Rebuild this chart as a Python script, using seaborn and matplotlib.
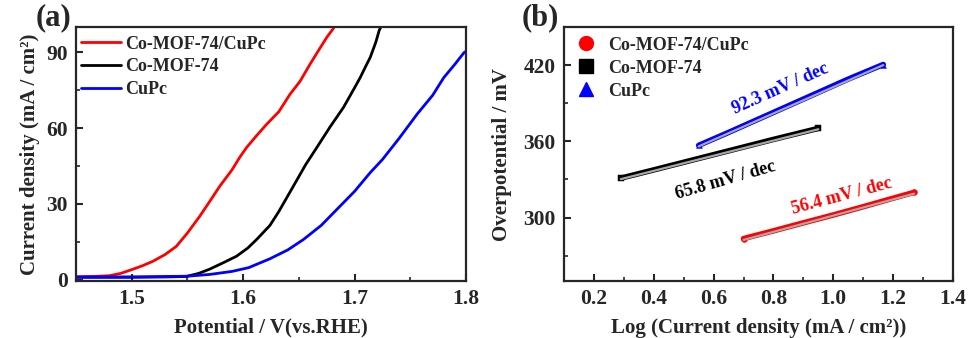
import numpy as np
import pandas as pd
import matplotlib
matplotlib.use("Agg")
import matplotlib.pyplot as plt
from matplotlib.lines import Line2D
from matplotlib.ticker import MultipleLocator
import seaborn as sns

sns.set_style("ticks")
plt.rcParams["font.family"] = ["Liberation Serif", "DejaVu Serif"]
plt.rcParams["font.weight"] = "bold"
plt.rcParams["axes.labelweight"] = "bold"

# ---- LSV polarization curves (panel a) ----
names = ["Co-MOF-74/CuPc", "Co-MOF-74", "CuPc"]
colors = ["#ff0000", "#000000", "#0000ff"]

v_hybrid = [1.45, 1.465, 1.48, 1.49, 1.50, 1.51, 1.519, 1.53, 1.54, 1.55, 1.561, 1.57,
            1.579, 1.59, 1.597, 1.603, 1.612, 1.621, 1.632, 1.642, 1.651, 1.660, 1.668,
            1.675, 1.681, 1.684]
j_hybrid = [1.2, 1.3, 1.6, 2.5, 4.0, 5.6, 7.3, 10.0, 13.2, 18.5, 25.1, 31.0,
            37.0, 43.5, 48.5, 52.3, 57.0, 61.5, 66.5, 73.4, 78.5, 85.3, 91.0,
            95.9, 99.5, 101.5]

v_mof = [1.45, 1.50, 1.53, 1.549, 1.560, 1.570, 1.582, 1.594, 1.604, 1.612, 1.624, 1.632,
         1.645, 1.656, 1.665, 1.678, 1.690, 1.700, 1.705, 1.710, 1.714, 1.719, 1.722, 1.725]
j_mof = [1.0, 1.0, 1.1, 1.3, 2.5, 4.2, 6.7, 9.3, 12.5, 15.9, 21.5, 27.0,
         37.0, 45.5, 51.6, 60.5, 68.2, 76.0, 80.0, 84.5, 88.0, 94.0, 98.6, 101.5]

v_cupc = [1.45, 1.50, 1.55, 1.57, 1.59, 1.605, 1.624, 1.640, 1.654, 1.670, 1.684, 1.700,
          1.714, 1.725, 1.740, 1.756, 1.770, 1.780, 1.790, 1.798, 1.801]
j_cupc = [1.0, 1.1, 1.4, 2.1, 3.3, 4.8, 8.3, 11.8, 15.9, 21.5, 27.8, 35.0,
          42.4, 47.6, 56.0, 65.5, 73.0, 80.0, 85.3, 89.8, 90.8]

# ---- Tafel plots (panel b) ----
logj_hybrid = [0.70, 0.80, 0.90, 1.00, 1.10, 1.20, 1.27]
eta_hybrid = [283.4, 289.5, 295.8, 302.0, 308.5, 315.2, 319.8]
logj_mof = [0.29, 0.40, 0.50, 0.60, 0.70, 0.80, 0.90, 0.95]
eta_mof = [331.0, 337.5, 343.5, 349.5, 355.5, 361.5, 367.3, 370.2]
logj_cupc = [0.55, 0.65, 0.75, 0.85, 0.95, 1.05, 1.167]
eta_cupc = [356.8, 367.0, 377.5, 388.0, 398.5, 409.0, 420.5]
tafel_labels = ["56.4 mV / dec", "65.8 mV / dec", "92.3 mV / dec"]
markers = ["o", "s", "^"]

fig = plt.figure(figsize=(9.69, 3.38), dpi=100)
ax1 = fig.add_axes([0.0784, 0.1686, 0.4026, 0.7514])
ax2 = fig.add_axes([0.582, 0.1686, 0.4015, 0.7514])

lsv = [(v_hybrid, j_hybrid), (v_mof, j_mof), (v_cupc, j_cupc)]
for (v, j), name, c in zip(lsv, names, colors):
    df = pd.DataFrame({"V": v, "j": j})
    sns.lineplot(data=df, x="V", y="j", ax=ax1, color=c, lw=2.0, label=name,
                 sort=False, estimator=None)

ax1.set_xlim(1.45, 1.8)
ax1.set_ylim(-0.5, 100)
ax1.xaxis.set_minor_locator(MultipleLocator(0.05))
ax1.yaxis.set_minor_locator(MultipleLocator(15))
ax1.set_xlabel("Potential / V(vs.RHE)", fontsize=15, labelpad=6)
ax1.set_ylabel("Current density (mA / cm\u00b2)", fontsize=15, labelpad=4)
leg1 = ax1.legend(loc="upper left", frameon=False, fontsize=13, handlelength=2.2,
                  handletextpad=0.25, labelspacing=0.33, borderaxespad=0.0,
                  bbox_to_anchor=(-0.005, 0.995))
for t in leg1.get_texts():
    t.set_fontweight("bold")

tafel = [(logj_hybrid, eta_hybrid), (logj_mof, eta_mof), (logj_cupc, eta_cupc)]
for (x, y), c, m in zip(tafel, colors, markers):
    df = pd.DataFrame({"logj": x, "eta": y})
    sns.lineplot(data=df, x="logj", y="eta", ax=ax2, color=c, lw=4.0,
                 sort=False, estimator=None, legend=False)
    k, b = np.polyfit(x, y, 1)
    xs = np.array([x[0], x[-1]])
    sns.lineplot(x=xs, y=k * xs + b - 0.8, ax=ax2, color="#a8a8a8", lw=1.6,
                 legend=False)
    sns.scatterplot(x=[x[0], x[-1]], y=[y[0], y[-1]], ax=ax2, color=c, s=18,
                    marker=m, edgecolor=c, legend=False)

ax2.text(1.027, 317.0, tafel_labels[0], color="#ff0000", fontsize=13,
         rotation=15, ha="center", va="center")
ax2.text(0.64, 329.5, tafel_labels[1], color="#000000", fontsize=13,
         rotation=16, ha="center", va="center")
ax2.text(0.823, 401.5, tafel_labels[2], color="#0000ff", fontsize=13,
         rotation=24, ha="center", va="center")

ax2.set_xlim(0.1, 1.4)
ax2.set_ylim(250, 450)
ax2.xaxis.set_minor_locator(MultipleLocator(0.1))
ax2.yaxis.set_minor_locator(MultipleLocator(30))
ax2.set_xlabel("Log (Current density (mA / cm\u00b2))", fontsize=15, labelpad=6)
ax2.set_ylabel("Overpotential / mV", fontsize=15, labelpad=8)
handles = [Line2D([], [], ls="none", marker=m, color=c, markersize=10)
           for m, c in zip(markers, colors)]
leg2 = ax2.legend(handles, names, loc="upper left", frameon=False, fontsize=13,
                  handlelength=1.0, handletextpad=0.75, labelspacing=0.33,
                  borderaxespad=0.0, bbox_to_anchor=(0.015, 0.99))
for t in leg2.get_texts():
    t.set_fontweight("bold")

for ax in (ax1, ax2):
    for s in ax.spines.values():
        s.set_linewidth(1.6)
        s.set_visible(True)
    ax.tick_params(which="major", direction="in", length=5, width=1.5,
                   labelsize=15.5, pad=6, top=False, right=False)
    ax.tick_params(which="minor", direction="in", length=3, width=1.2,
                   top=False, right=False)

ax1.set_xticks([1.5, 1.6, 1.7, 1.8])
ax1.set_xticklabels(["1.5", "1.6", "1.7", "1.8"], fontweight="bold")
ax1.set_yticks([0, 30, 60, 90])
ax1.set_yticklabels(["0", "30", "60", "90"], fontweight="bold")
ax2.set_xticks([0.2, 0.4, 0.6, 0.8, 1.0, 1.2, 1.4])
ax2.set_xticklabels(["0.2", "0.4", "0.6", "0.8", "1.0", "1.2", "1.4"], fontweight="bold")
ax2.set_yticks([300, 360, 420])
ax2.set_yticklabels(["300", "360", "420"], fontweight="bold")

fig.text(0.037, 0.99, "(a)", fontsize=22, fontweight="bold", va="top", ha="left")
fig.text(0.538, 0.99, "(b)", fontsize=22, fontweight="bold", va="top", ha="left")

fig.savefig("out.png", dpi=100)
